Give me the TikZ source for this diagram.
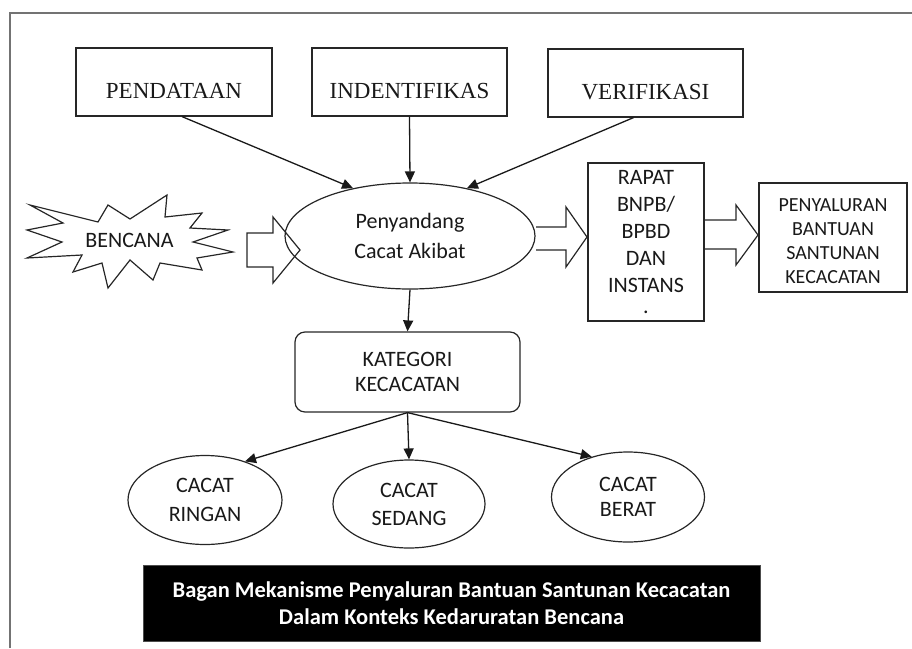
\documentclass[tikz,border=0pt]{standalone}
\usepackage{fontspec}
\setmainfont{Carlito}
\newfontfamily\serifboxfont{Liberation Serif}
\usetikzlibrary{shapes.geometric,arrows.meta}
\begin{document}
\begin{tikzpicture}[x=1pt,y=-1pt,
  line/.style={draw=black!85, line width=1.2pt},
  serifbox/.style={line, rectangle, minimum height=68pt, inner sep=0pt, text height=32pt, text depth=0pt, font=\serifboxfont\fontsize{23}{27}\selectfont, text=black!90},
  sanslab/.style={font=\fontsize{22}{27}\selectfont, align=center, text=black!90},
  oval/.style={line, ellipse, inner sep=0pt, sanslab},
  plainbox/.style={line, rectangle, inner sep=0pt},
  conn/.style={draw=black!90, line width=1.3pt, -{Triangle[length=11pt,width=10pt]}},
  blockarrow/.style={draw=black!85, line width=1.2pt, line join=miter},
]
\useasboundingbox (0,0) rectangle (912,648);
\draw[draw=black!55, line width=2pt] (10,648) -- (10,13) -- (912,13);

% top boxes
\node[serifbox, minimum width=196pt] (pend) at (174,82) {PENDATAAN};
\node[serifbox, minimum width=195pt] (ind) at (409.5,82) {INDENTIFIKAS};
\node[serifbox, minimum width=195pt] (ver) at (645.5,83) {VERIFIKASI};

% central ellipse
\node[oval, minimum width=250pt, minimum height=106pt] (ell) at (410,236) {Penyandang\\[3pt]Cacat Akibat};

% starburst
\draw[line, line join=miter] (30,205) -- (98,222) -- (108,205) -- (130,219) -- (167,195) -- (165,217)
  -- (202,213) -- (190,228) -- (228,230) -- (193,242) -- (233,252) -- (197,258) -- (202,270)
  -- (160,263) -- (153,280) -- (130,260) -- (108,288) -- (102,263) -- (73,272) -- (82,255)
  -- (27,258) -- (62,242) -- (27,230) -- (63,223) -- cycle;
\node[sanslab] (benc) at (129.5,240) {BENCANA};

% block arrows
\draw[blockarrow] (247,233) -- (273,233) -- (273,217) -- (300,250) -- (273,283) -- (273,267) -- (247,267) -- cycle;
\draw[blockarrow] (536,227) -- (566,227) -- (566,207) -- (587,237) -- (566,267) -- (566,250) -- (536,250);
\draw[blockarrow] (704,220) -- (736,220) -- (736,205) -- (758,235) -- (736,265) -- (736,249) -- (704,249);

% right boxes
\node[plainbox, minimum width=116pt, minimum height=158pt, sanslab] (rap) at (646,242)
  {RAPAT\\BNPB/\\BPBD\\DAN\\INSTANS\\[-6pt].};
\node[plainbox, minimum width=148pt, minimum height=109pt, font=\fontsize{20}{24}\selectfont, align=center, text=black!90, text height=92pt, text depth=0pt] (peny) at (833,237.5)
  {PENYALURAN\\BANTUAN\\SANTUNAN\\KECACATAN};

% category
\node[plainbox, rounded corners=10pt, minimum width=225pt, minimum height=80pt, sanslab, font=\fontsize{22}{25}\selectfont] (kat) at (407.5,372) {KATEGORI\\KECACATAN};

% bottom ovals
\node[oval, minimum width=154pt, minimum height=89pt] (rin) at (205,500) {CACAT\\[2pt]RINGAN};
\node[oval, minimum width=152pt, minimum height=88pt] (sed) at (409,504) {CACAT\\[1pt]SEDANG};
\node[oval, minimum width=153pt, minimum height=90pt, font=\fontsize{22}{25}\selectfont] (ber) at (628,497) {CACAT\\BERAT};

% caption
\node[fill=black, draw=black!70, line width=1pt, minimum width=617pt, minimum height=76pt, inner sep=0pt, text=white, font=\bfseries\fontsize{22.5}{27}\selectfont, align=center] (cap) at (451.5,603)
  {Bagan Mekanisme Penyaluran Bantuan Santunan Kecacatan\\Dalam Konteks Kedaruratan Bencana};

% connectors
\draw[conn] ([xshift=8pt]pend.south) -- (ell.140);
\draw[conn] (ind.south) -- (ell.north);
\draw[conn] ([xshift=-12pt]ver.south) -- (ell.40);
\draw[conn] (ell.south) -- (kat.north);
\draw[conn] (kat.south) -- (rin.44);
\draw[conn] (kat.south) -- (sed.north);
\draw[conn] (kat.south) -- (ber.132);
\end{tikzpicture}
\end{document}
